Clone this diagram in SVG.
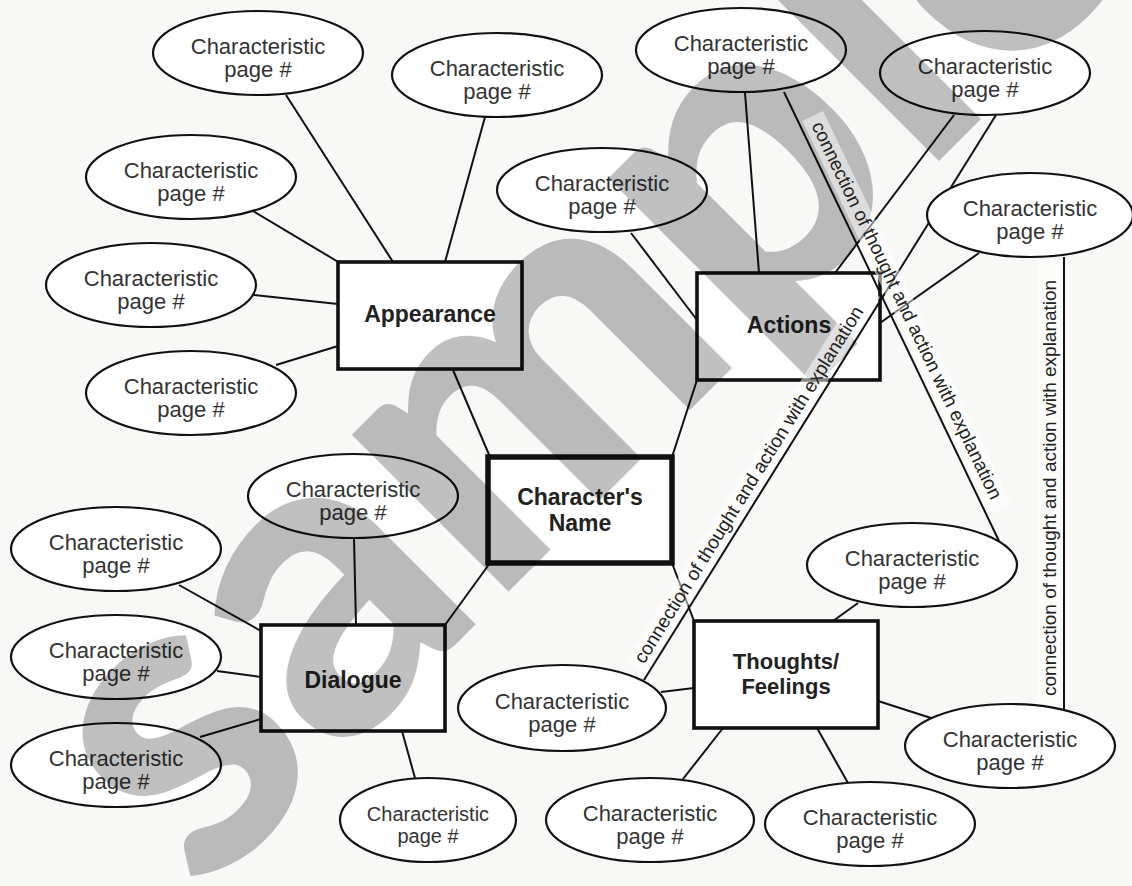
<svg xmlns="http://www.w3.org/2000/svg" width="1132" height="886" viewBox="0 0 1132 886">
<style>
.bg{fill:#f8f8f7}
.box{fill:#fff;stroke:#111;stroke-width:3.6}
.box.main{stroke-width:5.5}
.ell{fill:#fff;stroke:#111;stroke-width:2.2}
.ln{stroke:#111;stroke-width:2;fill:none}
.et{font-family:"Liberation Sans",Arial,sans-serif;font-size:22px;fill:#333;text-anchor:middle}
.bt{font-family:"Liberation Sans",Arial,sans-serif;font-size:23px;font-weight:bold;fill:#222;text-anchor:middle}
.lt{font-family:"Liberation Sans",Arial,sans-serif;font-size:19px;fill:#222}
.strip{fill:#fff;opacity:.5}
.wm{font-family:Lato,"DejaVu Sans",sans-serif;font-weight:900;font-size:430px;fill:#000;opacity:.245}
</style>
<rect class="bg" x="0" y="0" width="1132" height="886"/>

<g id="box-appearance"><rect class="box" x="338" y="262" width="184" height="107"/><text class="bt" x="430" y="322">Appearance</text></g>
<g id="box-actions"><rect class="box" x="697" y="273" width="183" height="107"/><text class="bt" x="789" y="333">Actions</text></g>
<g id="box-name"><rect class="box main" x="488" y="457" width="184" height="106"/><text class="bt" x="580" y="505">Character's</text><text class="bt" x="580" y="531">Name</text></g>
<g id="box-dialogue"><rect class="box" x="261" y="625" width="184" height="106"/><text class="bt" x="353" y="688">Dialogue</text></g>
<g id="box-thoughts"><rect class="box" x="694" y="621" width="184" height="107"/><text class="bt" x="786" y="669" style="font-size:22px">Thoughts/</text><text class="bt" x="786" y="694" style="font-size:22px">Feelings</text></g>

<g id="connectors">
<line class="ln" x1="286" y1="95" x2="393" y2="262"/>
<line class="ln" x1="485" y1="117" x2="445" y2="262"/>
<line class="ln" x1="253" y1="211" x2="340" y2="263"/>
<line class="ln" x1="254" y1="295" x2="338" y2="304"/>
<line class="ln" x1="276" y1="365" x2="338" y2="346"/>
<line class="ln" x1="453" y1="370" x2="490" y2="457"/>
<line class="ln" x1="631" y1="233" x2="697" y2="320"/>
<line class="ln" x1="745" y1="93" x2="759" y2="273"/>
<line class="ln" x1="954" y1="115" x2="835" y2="273"/>
<line class="ln" x1="979" y1="253" x2="880" y2="323"/>
<line class="ln" x1="697" y1="380" x2="672" y2="457"/>
<line class="ln" x1="490" y1="563" x2="445" y2="625"/>
<line class="ln" x1="672" y1="563" x2="694" y2="621"/>
<line class="ln" x1="354" y1="538" x2="356" y2="625"/>
<line class="ln" x1="179" y1="585" x2="261" y2="631"/>
<line class="ln" x1="217" y1="671" x2="261" y2="677"/>
<line class="ln" x1="200" y1="737" x2="261" y2="719"/>
<line class="ln" x1="402" y1="731" x2="415" y2="778"/>
<line class="ln" x1="858" y1="603" x2="833" y2="621"/>
<line class="ln" x1="661" y1="692" x2="694" y2="688"/>
<line class="ln" x1="878" y1="701" x2="931" y2="718"/>
<line class="ln" x1="723" y1="728" x2="683" y2="779"/>
<line class="ln" x1="817" y1="728" x2="848" y2="783"/>
<line class="ln" x1="784" y1="92" x2="999" y2="541"/>
<line class="ln" x1="996" y1="115" x2="644" y2="680"/>
<line class="ln" x1="1064" y1="257" x2="1064" y2="710"/>
</g>

<g id="e1"><ellipse class="ell" cx="258" cy="53" rx="105" ry="42"/><text class="et" x="258" y="54">Characteristic</text><text class="et" x="258" y="77">page #</text></g>
<g id="e2"><ellipse class="ell" cx="497" cy="75" rx="105" ry="42"/><text class="et" x="497" y="76">Characteristic</text><text class="et" x="497" y="99">page #</text></g>
<g id="e3"><ellipse class="ell" cx="191" cy="177" rx="105" ry="42"/><text class="et" x="191" y="178">Characteristic</text><text class="et" x="191" y="201">page #</text></g>
<g id="e4"><ellipse class="ell" cx="151" cy="285" rx="105" ry="42"/><text class="et" x="151" y="286">Characteristic</text><text class="et" x="151" y="309">page #</text></g>
<g id="e5"><ellipse class="ell" cx="191" cy="393" rx="105" ry="42"/><text class="et" x="191" y="394">Characteristic</text><text class="et" x="191" y="417">page #</text></g>
<g id="e6"><ellipse class="ell" cx="741" cy="50" rx="105" ry="42"/><text class="et" x="741" y="51">Characteristic</text><text class="et" x="741" y="74">page #</text></g>
<g id="e7"><ellipse class="ell" cx="985" cy="73" rx="105" ry="42"/><text class="et" x="985" y="74">Characteristic</text><text class="et" x="985" y="97">page #</text></g>
<g id="e8"><ellipse class="ell" cx="602" cy="190" rx="105" ry="42"/><text class="et" x="602" y="191">Characteristic</text><text class="et" x="602" y="214">page #</text></g>
<g id="e9"><ellipse class="ell" cx="1030" cy="215" rx="103" ry="42"/><text class="et" x="1030" y="216">Characteristic</text><text class="et" x="1030" y="239">page #</text></g>
<g id="e10"><ellipse class="ell" cx="353" cy="496" rx="105" ry="42"/><text class="et" x="353" y="497">Characteristic</text><text class="et" x="353" y="520">page #</text></g>
<g id="e11"><ellipse class="ell" cx="116" cy="549" rx="105" ry="42"/><text class="et" x="116" y="550">Characteristic</text><text class="et" x="116" y="573">page #</text></g>
<g id="e12"><ellipse class="ell" cx="116" cy="657" rx="105" ry="42"/><text class="et" x="116" y="658">Characteristic</text><text class="et" x="116" y="681">page #</text></g>
<g id="e13"><ellipse class="ell" cx="116" cy="765" rx="105" ry="42"/><text class="et" x="116" y="766">Characteristic</text><text class="et" x="116" y="789">page #</text></g>
<g id="e14"><ellipse class="ell" cx="428" cy="820" rx="88" ry="42"/><text class="et" x="428" y="821" style="font-size:20px">Characteristic</text><text class="et" x="428" y="843" style="font-size:20px">page #</text></g>
<g id="e15"><ellipse class="ell" cx="562" cy="708" rx="104" ry="43"/><text class="et" x="562" y="709">Characteristic</text><text class="et" x="562" y="732">page #</text></g>
<g id="e16"><ellipse class="ell" cx="912" cy="565" rx="105" ry="42"/><text class="et" x="912" y="566">Characteristic</text><text class="et" x="912" y="589">page #</text></g>
<g id="e17"><ellipse class="ell" cx="1010" cy="746" rx="105" ry="42"/><text class="et" x="1010" y="747">Characteristic</text><text class="et" x="1010" y="770">page #</text></g>
<g id="e18"><ellipse class="ell" cx="650" cy="820" rx="104" ry="42"/><text class="et" x="650" y="821">Characteristic</text><text class="et" x="650" y="844">page #</text></g>
<g id="e19"><ellipse class="ell" cx="870" cy="824" rx="105" ry="42"/><text class="et" x="870" y="825">Characteristic</text><text class="et" x="870" y="848">page #</text></g>

<g id="watermark" transform="translate(201,899) rotate(-45)"><text class="wm" x="0" y="0">sample</text></g>

<g id="label-a" transform="translate(784,92) rotate(64.4)"><rect class="strip" x="34" y="-27" width="436" height="23"/><text class="lt" x="42" y="-10">connection of thought and action with explanation</text></g>
<g id="label-b" transform="translate(644,680) rotate(-58.1)"><rect class="strip" x="6" y="-25" width="444" height="23"/><text class="lt" x="13" y="-8">connection of thought and action with explanation</text></g>
<g id="label-c" transform="translate(1064,710) rotate(-90)"><rect class="strip" x="6" y="-27" width="444" height="23"/><text class="lt" x="14" y="-8">connection of thought and action with explanation</text></g>
</svg>
